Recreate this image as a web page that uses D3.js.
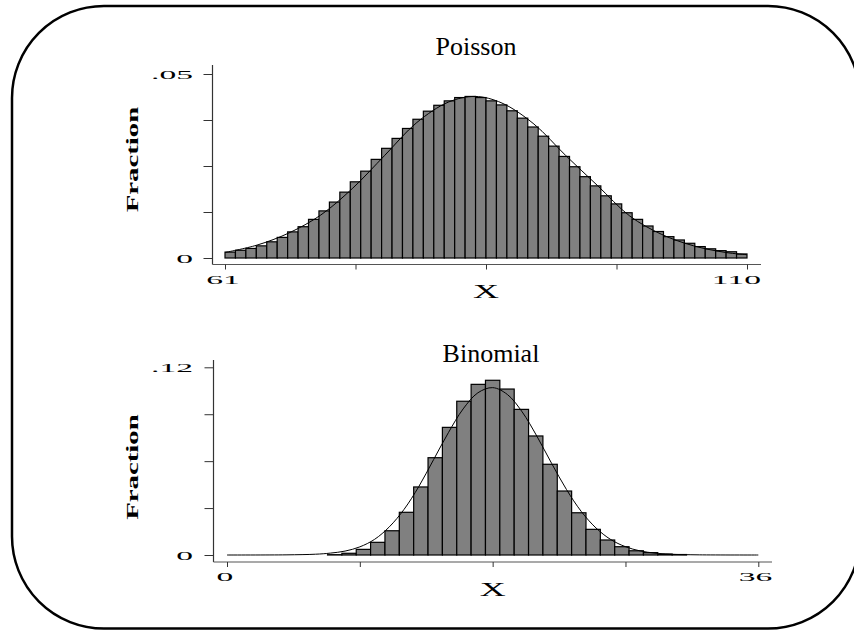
<!DOCTYPE html>
<html>
<head>
<meta charset="utf-8">
<script src="https://cdn.jsdelivr.net/npm/d3@7"></script>
<style>
  body { margin: 0; background: #fff; }
  svg { display: block; }
</style>
</head>
<body>
<script>
// ---- data ----
// Poisson panel: 50 equal bins between 61 and 110
const poissonRange = [61, 110];
const poissonFraction = [
  0.0016, 0.0021, 0.0026, 0.0033, 0.0044, 0.0056, 0.0071, 0.0085, 0.0105, 0.0128,
  0.0152, 0.0179, 0.0207, 0.0236, 0.0268, 0.0298, 0.0325, 0.0352, 0.0377, 0.0399,
  0.0415, 0.0427, 0.0436, 0.0439, 0.0436, 0.0427, 0.0416, 0.0400, 0.0380, 0.0356,
  0.0331, 0.0304, 0.0276, 0.0248, 0.0221, 0.0196, 0.0169, 0.0147, 0.0123, 0.0105,
  0.0087, 0.0072, 0.0058, 0.0049, 0.0040, 0.0031, 0.0025, 0.0020, 0.0017, 0.0011
];
const poissonXTicks = [61, 73.25, 85.5, 97.75, 110];
const poissonYTicks = [0, 0.0125, 0.025, 0.0375, 0.05];
const poissonCurveX = [61, 64, 67, 70, 73, 76, 79, 82, 84.5, 87, 90, 93, 96, 99, 102, 105, 108, 110];
const poissonCurveY = [0.0015, 0.0035, 0.0068, 0.0117, 0.0190, 0.0279, 0.0368, 0.0424, 0.0439,
  0.0421, 0.0364, 0.0278, 0.0196, 0.0114, 0.0064, 0.0033, 0.0015, 0.0009];

// Binomial panel: 37 equal bins between 0 and 36
const binomialRange = [0, 36];
const binomialFraction = [
  0, 0, 0, 0, 0, 0, 0, 0.0002, 0.0011, 0.0036,
  0.0081, 0.0155, 0.0273, 0.0435, 0.0622, 0.0816, 0.0983, 0.1091, 0.1117, 0.1061,
  0.0931, 0.0761, 0.0580, 0.0409, 0.0270, 0.0164, 0.0096, 0.0053, 0.0027, 0.0015,
  0.0006, 0.0003, 0, 0, 0, 0, 0
];
const binomialXTicks = [0, 9, 18, 27, 36];
const binomialYTicks = [0, 0.03, 0.06, 0.09, 0.12];
const binomialCurveX = [0, 4, 6, 7, 8, 9, 10, 11, 12, 13, 14, 15, 16, 17, 18, 19, 20, 21, 22,
  23, 24, 25, 26, 27, 28, 29, 30, 32, 36];
const binomialCurveY = [0, 0.0001, 0.0005, 0.0012, 0.0025, 0.0052, 0.0100, 0.0180, 0.0292, 0.0438,
  0.0610, 0.0782, 0.0934, 0.1037, 0.1070, 0.1026, 0.0915, 0.0759, 0.0585, 0.0419, 0.0279,
  0.0173, 0.0099, 0.0053, 0.0026, 0.0012, 0.0005, 0.0001, 0];

const width = 854, height = 630;
const serif = "'Liberation Serif', 'Times New Roman', serif";

const svg = d3.select("body").append("svg")
  .attr("width", width)
  .attr("height", height);

// rounded frame, runs off the right edge
svg.append("rect")
  .attr("x", 12).attr("y", 6)
  .attr("width", 848).attr("height", 622.5)
  .attr("rx", 92)
  .attr("fill", "none")
  .attr("stroke", "#000")
  .attr("stroke-width", 2.5);

// old stata fonts are very wide, so stretch text horizontally
function wideText(g, str, x, y, sx, size, anchor, weight, rotate) {
  return g.append("text")
    .attr("transform", `translate(${x},${y})` + (rotate ? ` rotate(${rotate})` : "") + ` scale(${sx},1)`)
    .attr("text-anchor", anchor)
    .style("font-family", serif)
    .style("font-size", size + "px")
    .style("font-weight", weight || "normal")
    .attr("fill", "#000")
    .text(str);
}

function drawPanel(p) {
  const g = svg.append("g");

  const x = d3.scaleLinear().domain(p.range).range([p.left, p.right]);
  const y = d3.scaleLinear().domain([0, p.yTicks[p.yTicks.length - 1]]).range([p.base, p.top]);
  const binW = (p.range[1] - p.range[0]) / p.fraction.length;

  // bars
  g.append("g")
    .selectAll("rect")
    .data(p.fraction.map((v, i) => ({ v: v, x0: p.range[0] + i * binW, x1: p.range[0] + (i + 1) * binW }))
      .filter(d => d.v > 0))
    .enter().append("rect")
    .attr("x", d => x(d.x0))
    .attr("width", d => x(d.x1) - x(d.x0))
    .attr("y", d => y(d.v))
    .attr("height", d => y(0) - y(d.v))
    .attr("fill", "#808080")
    .attr("stroke", "#000")
    .attr("stroke-width", 1.2);

  // normal density overlay
  const line = d3.line()
    .x(d => x(d[0]))
    .y(d => y(d[1]))
    .curve(d3.curveCatmullRom.alpha(0.5));
  g.append("path")
    .datum(p.curveX.map((v, i) => [v, p.curveY[i]]))
    .attr("d", line)
    .attr("fill", "none")
    .attr("stroke", "#000")
    .attr("stroke-width", 1);

  // axis lines
  g.append("line")
    .attr("x1", p.axisX).attr("x2", p.axisX)
    .attr("y1", p.axisTop).attr("y2", p.xAxisY)
    .attr("stroke", "#333").attr("stroke-width", 1.2);
  g.append("line")
    .attr("x1", p.axisX).attr("x2", p.xAxisEnd)
    .attr("y1", p.xAxisY).attr("y2", p.xAxisY)
    .attr("stroke", "#555").attr("stroke-width", 1.2);

  // ticks via d3 axes, labels drawn separately
  const yAx = g.append("g")
    .attr("transform", `translate(${p.axisX},0)`)
    .call(d3.axisLeft(y).tickValues(p.yTicks).tickSize(9).tickFormat(""));
  const xAx = g.append("g")
    .attr("transform", `translate(0,${p.xAxisY})`)
    .call(d3.axisBottom(x).tickValues(p.xTicks).tickSize(5).tickFormat(""));
  [yAx, xAx].forEach(a => {
    a.select(".domain").remove();
    a.selectAll(".tick line").attr("stroke", "#333");
  });

  // y labels only at both ends
  const yFirst = p.yTicks[0], yLast = p.yTicks[p.yTicks.length - 1];
  wideText(g, "0", 193, y(yFirst) + 4.5, 2.8, 12, "end");
  wideText(g, p.yLabelTop, 193, y(yLast) + 4.5, 2.8, 12, "end");

  // x labels only at both ends
  const xFirst = p.xTicks[0], xLast = p.xTicks[p.xTicks.length - 1];
  wideText(g, String(xFirst), x(xFirst) - 2, p.xAxisY + 19, 2.8, 12, "middle");
  wideText(g, String(xLast), x(xLast) + 14, p.xAxisY + 19, 2.8, 12, "end");

  wideText(g, "X", (p.left + p.right) / 2, p.xAxisY + 33.5, 2, 18, "middle");
  wideText(g, "Fraction", 138, p.fracY, 1.8, 16, "middle", "bold", -90);

  g.append("text")
    .attr("x", p.titleX).attr("y", p.titleY)
    .attr("text-anchor", "middle")
    .style("font-family", serif)
    .style("font-size", "26px")
    .text(p.title);
}

drawPanel({
  title: "Poisson", titleX: 476, titleY: 55,
  range: poissonRange, fraction: poissonFraction,
  xTicks: poissonXTicks, yTicks: poissonYTicks, yLabelTop: ".05",
  curveX: poissonCurveX, curveY: poissonCurveY,
  left: 225, right: 747, base: 258, top: 74,
  axisX: 212.5, axisTop: 65, xAxisY: 264.5, xAxisEnd: 761,
  fracY: 159.5
});

drawPanel({
  title: "Binomial", titleX: 491, titleY: 362,
  range: binomialRange, fraction: binomialFraction,
  xTicks: binomialXTicks, yTicks: binomialYTicks, yLabelTop: ".12",
  curveX: binomialCurveX, curveY: binomialCurveY,
  left: 227, right: 758.3, base: 555, top: 367.3,
  axisX: 213.5, axisTop: 360, xAxisY: 562, xAxisEnd: 772,
  fracY: 467
});
</script>
</body>
</html>
